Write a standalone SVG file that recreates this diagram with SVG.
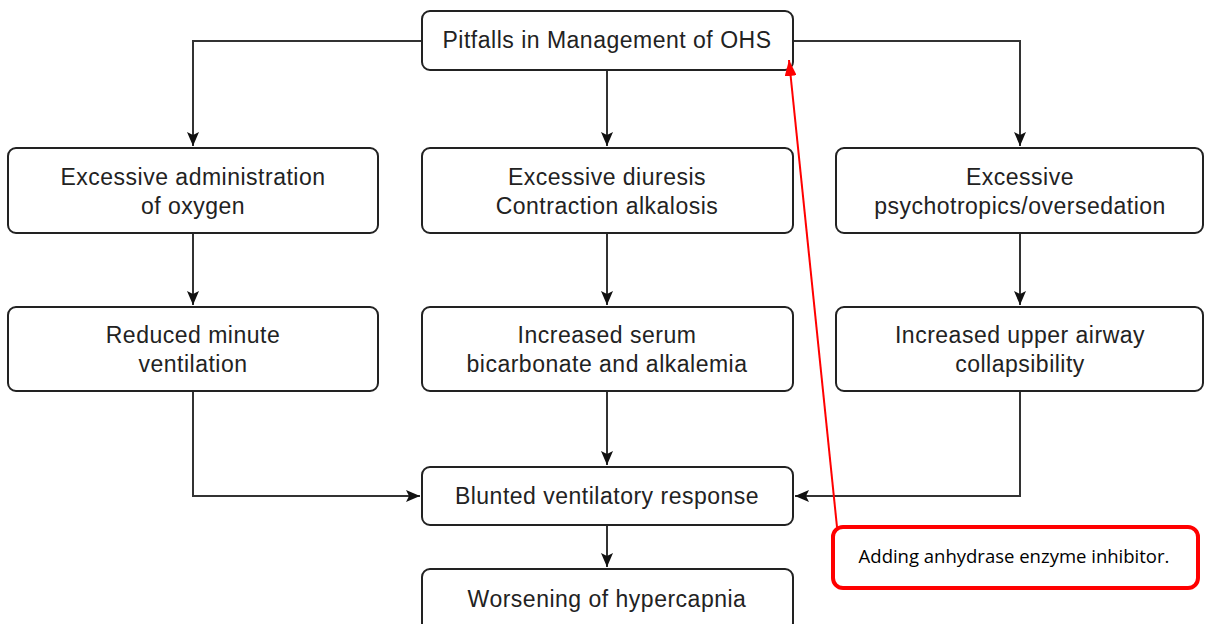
<svg xmlns="http://www.w3.org/2000/svg" width="1205" height="624" viewBox="0 0 1205 624">
<style>
.box{fill:#fff;stroke:#222;stroke-width:2}
.t{font-family:"Liberation Sans",Arial,sans-serif;font-size:23px;fill:#222;text-anchor:middle;letter-spacing:0.5px}
.c{fill:none;stroke:#333;stroke-width:2}
.red{fill:#fff;stroke:#f00;stroke-width:4}
.rt{font-family:"Open Sans","Liberation Sans",sans-serif;font-size:18.5px;fill:#000;text-anchor:middle}
</style>
<defs>
<marker id="ah" markerUnits="userSpaceOnUse" markerWidth="14" markerHeight="14" viewBox="0 0 14 14" refX="14" refY="7" orient="auto">
<path d="M0,1 L14,7 L0,13 L3,7 Z" fill="#111"/>
</marker>
<marker id="rah" markerUnits="userSpaceOnUse" markerWidth="16" markerHeight="12" viewBox="0 0 16 12" refX="16" refY="6" orient="auto">
<path d="M0,0 L16,6 L0,12 Z" fill="#f00"/>
</marker>
</defs>
<rect width="1205" height="624" fill="#fff"/>
<g id="connectors">
<path class="c" d="M422,41 H193 V146" marker-end="url(#ah)"/>
<path class="c" d="M793,41 H1020 V146" marker-end="url(#ah)"/>
<path class="c" d="M607,70 V146" marker-end="url(#ah)"/>
<path class="c" d="M193,233 V305" marker-end="url(#ah)"/>
<path class="c" d="M607,233 V305" marker-end="url(#ah)"/>
<path class="c" d="M1020,233 V305" marker-end="url(#ah)"/>
<path class="c" d="M607,391 V465" marker-end="url(#ah)"/>
<path class="c" d="M193,391 V496 H420" marker-end="url(#ah)"/>
<path class="c" d="M1020,391 V496 H795" marker-end="url(#ah)"/>
<path class="c" d="M607,525 V567" marker-end="url(#ah)"/>
</g>
<g id="n-top"><rect class="box" x="422" y="11" width="371" height="59" rx="8"/><text class="t" x="607" y="48">Pitfalls in Management of OHS</text></g>
<g id="n-oxygen"><rect class="box" x="8" y="148" width="370" height="85" rx="8"/><text class="t" x="193" y="185">Excessive administration</text><text class="t" x="193" y="214">of oxygen</text></g>
<g id="n-diuresis"><rect class="box" x="422" y="148" width="371" height="85" rx="8"/><text class="t" x="607" y="185">Excessive diuresis</text><text class="t" x="607" y="214">Contraction alkalosis</text></g>
<g id="n-psycho"><rect class="box" x="836" y="148" width="367" height="85" rx="8"/><text class="t" x="1020" y="185">Excessive</text><text class="t" x="1020" y="214">psychotropics/oversedation</text></g>
<g id="n-minute"><rect class="box" x="8" y="307" width="370" height="84" rx="8"/><text class="t" x="193" y="343">Reduced minute</text><text class="t" x="193" y="372">ventilation</text></g>
<g id="n-serum"><rect class="box" x="422" y="307" width="371" height="84" rx="8"/><text class="t" x="607" y="343">Increased serum</text><text class="t" x="607" y="372">bicarbonate and alkalemia</text></g>
<g id="n-airway"><rect class="box" x="836" y="307" width="367" height="84" rx="8"/><text class="t" x="1020" y="343">Increased upper airway</text><text class="t" x="1020" y="372">collapsibility</text></g>
<g id="n-blunted"><rect class="box" x="422" y="467" width="371" height="58" rx="8"/><text class="t" x="607" y="504">Blunted ventilatory response</text></g>
<g id="n-worse"><rect class="box" x="422" y="569" width="371" height="62" rx="8"/><text class="t" x="607" y="607">Worsening of hypercapnia</text></g>
<g id="annotation">
<line x1="837" y1="527" x2="789" y2="60" stroke="#f00" stroke-width="2" marker-end="url(#rah)"/>
<rect class="red" x="833" y="527" width="365" height="61" rx="10"/>
<text class="rt" x="1014" y="563">Adding anhydrase enzyme inhibitor.</text>
</g>
</svg>
